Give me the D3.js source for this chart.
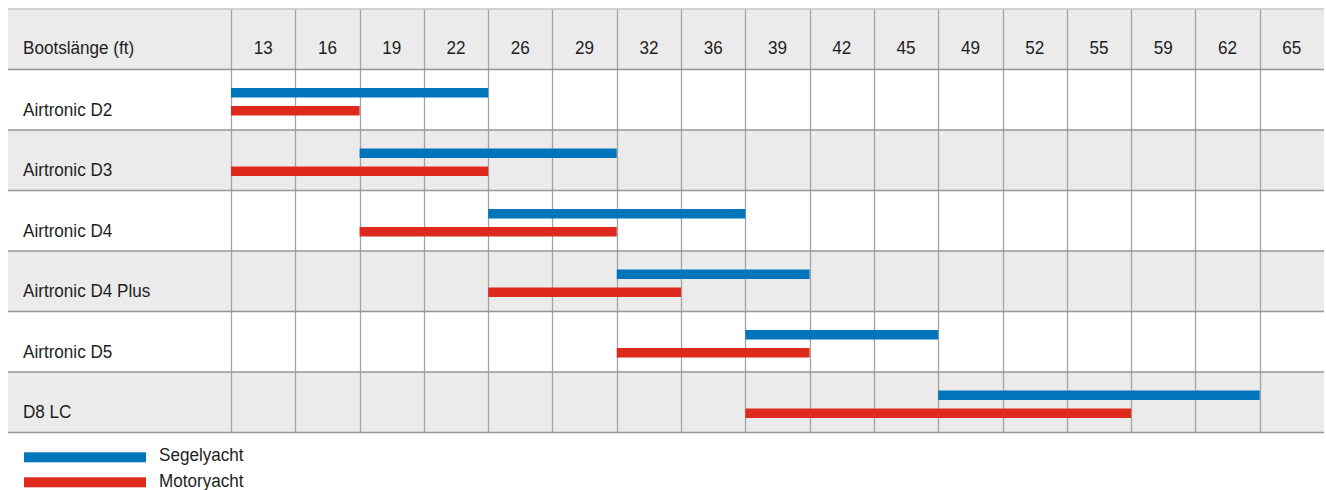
<!DOCTYPE html>
<html><head><meta charset="utf-8">
<script src="https://cdn.jsdelivr.net/npm/d3@7"></script>
<style>
html,body{margin:0;padding:0;background:#fff;}
text{font-family:"Liberation Sans",Arial,sans-serif;fill:#1e1e1e;font-size:19px;}
</style></head>
<body><svg id="c" width="1326" height="490"></svg>
<script>
const headerLabel = "Bootslänge (ft)";
const lengths = [13,16,19,22,26,29,32,36,39,42,45,49,52,55,59,62,65];
const models = ["Airtronic D2","Airtronic D3","Airtronic D4","Airtronic D4 Plus","Airtronic D5","D8 LC"];
const segelyacht = [[13,22],[19,29],[26,36],[32,39],[39,45],[49,62]];
const motoryacht = [[13,16],[13,22],[19,29],[26,32],[32,39],[39,55]];
const seriesNames = ["Segelyacht","Motoryacht"];
const colors = ["#0075bb","#dd2a1c"];

const svg = d3.select("#c");
const L = 8, gridL = 231, R = 1324, T = 9, B = 432.5;
const SX = 0.9;

const x = d3.scaleBand().domain(lengths).range([gridL, R]).padding(0);
const y = d3.scaleBand().domain(["__header__", ...models]).range([T, B]).padding(0);

function label(g, tx, ty, str, anchor) {
  g.append("g").attr("transform", `translate(${tx},${ty}) scale(${SX},1)`)
    .append("text").attr("text-anchor", anchor || "start").text(str);
}

const rowsAll = ["__header__", ...models];
svg.append("g").selectAll("rect").data(rowsAll).join("rect")
  .attr("x", L).attr("y", d => y(d)).attr("width", R - L).attr("height", y.bandwidth())
  .attr("fill", (d,i) => i % 2 === 0 ? "#ebebeb" : "#ffffff");

svg.append("g").selectAll("line").data(lengths).join("line")
  .attr("x1", d => Math.round(x(d)) + 0.5).attr("x2", d => Math.round(x(d)) + 0.5)
  .attr("y1", T).attr("y2", B)
  .attr("stroke", "#a3a3a3").attr("stroke-width", 1.3);

svg.append("g").selectAll("line").data(rowsAll.slice(1).concat(["__end__"])).join("line")
  .attr("x1", L).attr("x2", R)
  .attr("y1", d => d === "__end__" ? B : y(d)).attr("y2", d => d === "__end__" ? B : y(d))
  .attr("stroke", "#959595").attr("stroke-width", 1.5);
svg.append("line").attr("x1", L).attr("x2", R).attr("y1", T).attr("y2", T)
  .attr("stroke", "#c6c6c6").attr("stroke-width", 1.5);

const tg = svg.append("g");
label(tg, 23, y("__header__") + 45, headerLabel);
lengths.forEach(d => label(tg, x(d) + x.bandwidth()/2, y("__header__") + 45, String(d), "middle"));
models.forEach(m => label(tg, 23, y(m) + 46, m));

const barH = 9.5;
const offsets = [18.5, 36.5];
[segelyacht, motoryacht].forEach((series, si) => {
  svg.append("g").selectAll("rect").data(series.map((r,i) => ({r, m: models[i]}))).join("rect")
    .attr("x", d => x(d.r[0]))
    .attr("width", d => x(d.r[1]) + x.bandwidth() - x(d.r[0]))
    .attr("y", d => y(d.m) + offsets[si])
    .attr("height", barH)
    .attr("fill", colors[si]);
});

const lg = svg.append("g");
seriesNames.forEach((n, i) => {
  lg.append("rect").attr("x", 24).attr("y", 452.3 + i*25).attr("width", 122).attr("height", 10).attr("fill", colors[i]);
  label(lg, 159, 461 + i*25.5, n);
});
</script></body></html>
